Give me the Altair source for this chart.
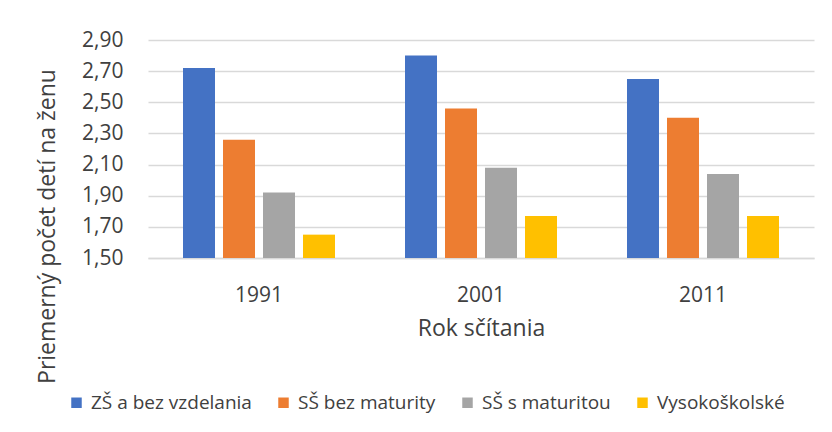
import altair as alt
import pandas as pd

years = ["1991", "2001", "2011"]
series = ["ZŠ a bez vzdelania", "SŠ bez maturity", "SŠ s maturitou", "Vysokoškolské"]
vals_zs = [2.72, 2.80, 2.65]
vals_ssbm = [2.26, 2.46, 2.40]
vals_sssm = [1.92, 2.08, 2.04]
vals_vs = [1.65, 1.77, 1.77]
colors = ["#4472C4", "#ED7D31", "#A5A5A5", "#FFC000"]
y_ticks = [1.5, 1.7, 1.9, 2.1, 2.3, 2.5, 2.7, 2.9]

rows = []
for s, vals in zip(series, [vals_zs, vals_ssbm, vals_sssm, vals_vs]):
    for y, v in zip(years, vals):
        rows.append({"rok": y, "vzdelanie": s, "hodnota": v})
df = pd.DataFrame(rows)

FONT = "Open Sans"

chart = alt.Chart(df).mark_bar().encode(
    x=alt.X("rok:N", sort=years,
            scale=alt.Scale(paddingInner=0, paddingOuter=0),
            axis=alt.Axis(title="Rok sčítania", labelAngle=0, ticks=False,
                          domain=True, domainColor="#d9d9d9", domainWidth=1.5,
                          labelPadding=26, labelFontSize=21, labelColor="#404040",
                          titleFontSize=23, titleColor="#404040", titleFontWeight="normal",
                          titlePadding=12, labelFont=FONT, titleFont=FONT)),
    xOffset=alt.XOffset("vzdelanie:N", sort=series,
                        scale=alt.Scale(paddingInner=0.2, paddingOuter=0.875)),
    y=alt.Y("hodnota:Q",
            scale=alt.Scale(domain=[1.5, 2.9], zero=False, nice=False),
            axis=alt.Axis(title="Priemerný počet detí na ženu", values=y_ticks,
                          labelExpr="replace(format(datum.value, '.2f'), '.', ',')",
                          domain=False, ticks=False, grid=True, gridColor="#d9d9d9",
                          gridWidth=1.5, labelPadding=25, labelFontSize=21,
                          labelColor="#404040", titleFontSize=23, titleColor="#404040",
                          titleFontWeight="normal", titleX=-101, titleY=186,
                          titleAlign="center", titleBaseline="middle",
                          labelFont=FONT, titleFont=FONT)),
    y2=alt.Y2(datum=1.5),
    color=alt.Color("vzdelanie:N", sort=series,
                    scale=alt.Scale(domain=series, range=colors),
                    legend=alt.Legend(title=None, orient="none", direction="horizontal",
                                      legendX=-81, legendY=353, symbolType="square",
                                      symbolSize=110, symbolStrokeWidth=0,
                                      labelFontSize=19, labelColor="#404040",
                                      labelFont=FONT, labelLimit=400, columnPadding=22,
                                      symbolOffset=0, labelOffset=5)),
).properties(
    width=666, height=218,
    autosize=alt.AutoSizeParams(type="none"),
    padding={"left": 140, "top": 32, "right": 10, "bottom": 160},
).configure_view(stroke=None)

chart.save("out.html", embed_options={"renderer": "svg", "actions": False})
